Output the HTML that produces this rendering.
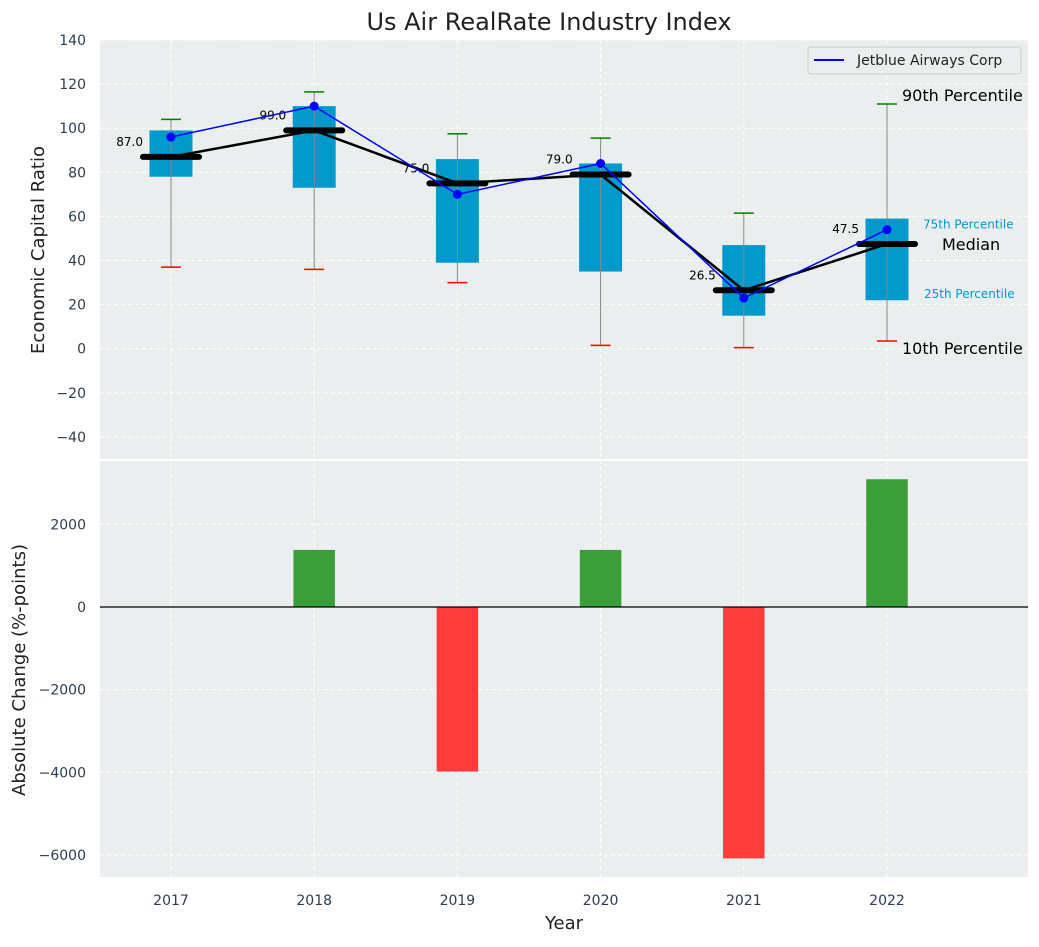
<!DOCTYPE html>
<html><head><meta charset="utf-8"><style>
body{margin:0;background:#fff;}
svg text{font-family:"DejaVu Sans","Liberation Sans",sans-serif;}
</style></head><body>
<svg id="c" width="1039" height="942" xmlns="http://www.w3.org/2000/svg"></svg>
<script>
const years=[2017,2018,2019,2020,2021,2022];
const p10=[37,36,30,1.5,0.5,3.5];
const p25=[78,73,39,35,15,22];
const medians=[87,99,75,79,26.5,47.5];
const p75=[99,110,86,84,47,59];
const p90=[104,116.5,97.5,95.5,61.5,111];
const jetblue=[96,110,70,84,23,54];
const changes=[0,1380,-3980,1380,-6080,3090];
const topTicks=[-40,-20,0,20,40,60,80,100,120,140];
const botTicks=[-6000,-4000,-2000,0,2000];
const NS="http://www.w3.org/2000/svg";
const svg=document.getElementById('c');
function el(t,a,txt){const e=document.createElementNS(NS,t);for(const k in a)e.setAttribute(k,a[k]);if(txt!==undefined)e.textContent=txt;svg.appendChild(e);return e;}
const L=100,R=1028;
const x=v=>171+(v-2017)*143.2;
const T0=40,T1=459;const yT=v=>T1-(v+50)/190*(T1-T0);
const B0=460,B1=877;const yB=v=>B1-(v+6530)/(3555+6530)*(B1-B0);
const fmt=v=>v<0?'\u2212'+Math.abs(v):''+v;
let e;
e=el('rect',{x:L,y:T0,width:R-L,height:T1-T0,fill:'#ebeeee'});

e=el('rect',{x:L,y:B0+1,width:R-L,height:B1-B0-1,fill:'#ebeeee'});

years.forEach(v=>{[[T0,T1],[B0,B1]].forEach(r=>{e=el('line',{x1:x(v),x2:x(v),y1:r[0],y2:r[1],stroke:'#fff','stroke-dasharray':'4,3'});
});});
topTicks.forEach(v=>{e=el('line',{x1:L,x2:R,y1:yT(v),y2:yT(v),stroke:'#fff','stroke-dasharray':'4,3'});

e=el('text',{x:86,y:yT(v)+5,'text-anchor':'end','font-size':14,fill:'#2c3e50'},fmt(v));
});
botTicks.forEach(v=>{e=el('line',{x1:L,x2:R,y1:yB(v),y2:yB(v),stroke:'#fff','stroke-dasharray':'4,3'});

e=el('text',{x:86,y:yB(v)+5,'text-anchor':'end','font-size':14,fill:'#2c3e50'},fmt(v));
});
const hw=(x(2017.15)-x(2017));
years.forEach((yr,i)=>{const cx=x(yr);
e=el('rect',{x:cx-hw,y:yT(p75[i]),width:2*hw,height:yT(p25[i])-yT(p75[i]),fill:'#0099cc'});

e=el('line',{x1:cx,x2:cx,y1:yT(p90[i]),y2:yT(p10[i]),stroke:'#888','stroke-width':1});

e=el('line',{x1:cx-10,x2:cx+10,y1:yT(p90[i]),y2:yT(p90[i]),stroke:'green','stroke-width':1.5});

e=el('line',{x1:cx-10,x2:cx+10,y1:yT(p10[i]),y2:yT(p10[i]),stroke:'red','stroke-width':1.5});

});
e=el('polyline',{points:years.map((yr,i)=>x(yr)+','+yT(medians[i])).join(' '),fill:'none',stroke:'#000','stroke-width':2.5});

years.forEach((yr,i)=>{const cx=x(yr),yy=yT(medians[i]);
e=el('line',{x1:cx-28,x2:cx+28,y1:yy,y2:yy,stroke:'#000','stroke-width':6,'stroke-linecap':'round'});

e=el('text',{x:cx-28,y:yy-11,'text-anchor':'end','font-size':12,fill:'#000'},medians[i].toFixed(1));
});
e=el('polyline',{points:years.map((yr,i)=>x(yr)+','+yT(jetblue[i])).join(' '),fill:'none',stroke:'blue','stroke-width':1.5});

years.forEach((yr,i)=>{e=el('circle',{cx:x(yr),cy:yT(jetblue[i]),r:4.5,fill:'blue'});
});
const ax=x(2022);
e=el('text',{x:ax+15,y:yT(p90[5])-3,'font-size':16,fill:'#000'},'90th Percentile');
e=el('text',{x:ax+15,y:yT(p10[5])+13,'font-size':16,fill:'#000'},'10th Percentile');
e=el('text',{x:ax+36,y:yT(p75[5])+10,'font-size':12,fill:'#0099cc'},'75th Percentile');
e=el('text',{x:ax+37,y:yT(p25[5])-2,'font-size':12,fill:'#0099cc'},'25th Percentile');
e=el('text',{x:ax+55,y:yT(medians[5])+6,'font-size':16,fill:'#000'},'Median');
e=el('rect',{x:808,y:47,width:213,height:27,rx:3,fill:'#ebeeee',stroke:'#ccc'});
e=el('line',{x1:814,x2:844,y1:60,y2:60,stroke:'blue','stroke-width':2});
e=el('text',{x:857,y:65,'font-size':14,fill:'#222'},'Jetblue Airways Corp');
const bw=x(2017.145)-x(2017);
years.forEach((yr,i)=>{const v=changes[i];const y0=yB(0),y1=yB(v);
e=el('rect',{x:x(yr)-bw,y:Math.min(y0,y1),width:2*bw,height:Math.abs(y1-y0),fill:v>=0?'#3a9e3a':'#ff3b3b'});

e=el('text',{x:x(yr),y:905,'text-anchor':'middle','font-size':14,fill:'#2c3e50'},''+yr);
});
e=el('line',{x1:L,x2:R,y1:yB(0),y2:yB(0),stroke:'#000','stroke-width':1.2});
e=el('text',{x:549,y:30,'text-anchor':'middle','font-size':24,fill:'#222'},'Us Air RealRate Industry Index');
e=el('text',{x:44,y:250,'text-anchor':'middle','font-size':18,fill:'#222',transform:'rotate(-90 44 250)'},'Economic Capital Ratio');
e=el('text',{x:25,y:670,'text-anchor':'middle','font-size':18,fill:'#222',transform:'rotate(-90 25 670)'},'Absolute Change (%-points)');
e=el('text',{x:564,y:929,'text-anchor':'middle','font-size':18,fill:'#222'},'Year');
</script>
</body></html>
